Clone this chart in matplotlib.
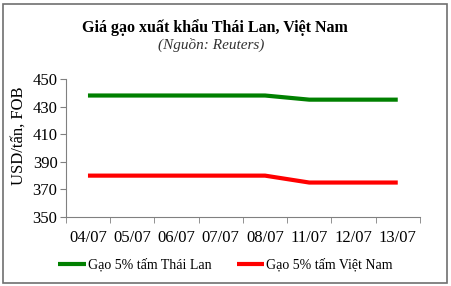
import matplotlib.pyplot as plt
from matplotlib.patches import Rectangle

plt.rcParams['font.family'] = ['Liberation Serif', 'DejaVu Serif']

dates = ["04/07", "05/07", "06/07", "07/07", "08/07", "11/07", "12/07", "13/07"]
thai = [438, 438, 438, 438, 438, 435, 435, 435]
viet = [380, 380, 380, 380, 380, 375, 375, 375]
yticks = [350, 370, 390, 410, 430, 450]

fig = plt.figure(figsize=(4.51, 2.86), dpi=100)
ax = fig.add_axes([0.146, 0.241, 0.785, 0.483])

x = range(len(dates))
ax.plot(x, thai, color="#008000", linewidth=3, solid_capstyle="butt",
        label="Gạo 5% tấm Thái Lan")
ax.plot(x, viet, color="#ff0000", linewidth=3, solid_capstyle="butt",
        label="Gạo 5% tấm Việt Nam")

ax.set_xlim(-0.5, len(dates) - 0.5)
ax.set_ylim(350, 450)
ax.set_yticks(yticks)
ax.set_xticks(x)
ax.set_xticklabels(dates)
ax.set_xticks([i - 0.5 for i in range(len(dates) + 1)], minor=True)
ax.tick_params(axis="x", which="major", length=0, labelsize=12, pad=9)
ax.tick_params(axis="x", which="minor", length=4, color="#808080", direction="out")
ax.tick_params(axis="y", length=4, color="#808080", labelsize=12, pad=2)
for s in ["top", "right"]:
    ax.spines[s].set_visible(False)
for s in ["left", "bottom"]:
    ax.spines[s].set_color("#808080")
    ax.spines[s].set_linewidth(0.8)
ax.set_ylabel("USD/tấn, FOB", fontsize=12)
ax.yaxis.set_label_coords(-0.11, 0.59)

fig.text(0.476, 0.905, "Giá gạo xuất khẩu Thái Lan, Việt Nam",
         ha="center", va="center", fontsize=11.5, fontweight="bold")
fig.text(0.468, 0.843, "(Nguồn: Reuters)", ha="center", va="center",
         fontsize=11, style="italic", color="#333333")

fig.legend(loc="center", bbox_to_anchor=(0.5, 0.073), ncol=2, frameon=False,
           fontsize=10, handlelength=2.0, handletextpad=0.15, columnspacing=1.8)

fig.patches.append(Rectangle((0.007, 0.01), 0.985, 0.975, transform=fig.transFigure,
                             fill=False, edgecolor="#707070", linewidth=1.2))

fig.savefig("out.png", dpi=100)
